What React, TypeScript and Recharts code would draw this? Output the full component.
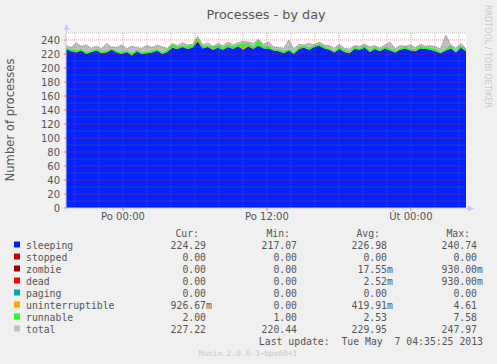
import React from 'react';
import { ComposedChart, Area, XAxis, YAxis, ReferenceLine } from 'recharts';

// 5-minute munin samples, one point every ~25 min (300 s/px)
const sleeping = [
  227, 224, 222, 225, 220, 223, 225, 221, 222, 226,
  222, 220, 223, 218, 224, 220, 221, 222, 225, 220,
  223, 229, 227, 230, 227, 229, 238, 228, 230, 226,
  229, 226, 230, 227, 231, 226, 231, 227, 232, 228,
  228, 225, 224, 221, 225, 220, 227, 229, 226, 230,
  232, 228, 226, 222, 227, 223, 221, 227, 226, 229,
  223, 227, 224, 228, 225, 222, 226, 228, 225, 224,
  228, 227, 226, 224, 221, 225, 228, 222, 229, 224,
];
const uninterruptible = [
  0, 0, 1, 0, 0, 0, 0, 0, 1, 0,
  0, 0, 0, 0, 0, 1, 0, 0, 0, 0,
  0, 1, 0, 0, 1, 0, 2, 0, 0, 1,
  0, 0, 1, 0, 0, 4, 1, 0, 1, 0,
  0, 0, 1, 0, 0, 0, 0, 1, 0, 0,
  1, 0, 0, 0, 0, 1, 0, 0, 0, 0,
  1, 0, 0, 0, 0, 1, 0, 0, 0, 1,
  0, 0, 1, 0, 0, 0, 1, 0, 0, 1,
];
const runnable = [
  2, 3, 2, 2, 3, 2, 2, 3, 2, 2,
  3, 2, 2, 3, 2, 2, 2, 3, 2, 2,
  3, 4, 3, 2, 3, 3, 4, 3, 2, 3,
  4, 3, 3, 4, 3, 5, 4, 3, 7, 3,
  3, 2, 2, 3, 2, 2, 3, 2, 3, 2,
  2, 3, 2, 2, 3, 2, 2, 3, 2, 3,
  2, 3, 2, 2, 3, 2, 2, 3, 2, 2,
  3, 2, 2, 3, 2, 2, 3, 2, 3, 2,
];
const total = [
  232, 229, 236, 231, 233, 228, 231, 227, 235, 230,
  229, 233, 227, 231, 229, 228, 232, 229, 233, 230,
  228, 235, 232, 236, 233, 234, 245, 233, 236, 231,
  235, 232, 237, 233, 236, 238, 237, 235, 241, 234,
  237, 230, 229, 228, 240, 227, 234, 233, 235, 233,
  237, 233, 232, 228, 234, 228, 227, 232, 231, 234,
  230, 232, 228, 233, 237, 227, 232, 231, 233, 229,
  234, 231, 232, 230, 227, 247, 233, 228, 235, 227,
];

// hours relative to Monday 00:00
const START = -4.75;
const END = 28.59;
const xTicks = [0, 12, 24];
const xTickLabels = ['Po 00:00', 'Po 12:00', 'Út 00:00'];
const yTicks = [0, 20, 40, 60, 80, 100, 120, 140, 160, 180, 200, 220, 240];
const yMinor = [10, 30, 50, 70, 90, 110, 130, 150, 170, 190, 210, 230, 250];
const xMajor = [0, 6, 12, 18, 24];
const xMinor = [-4, -2, 2, 4, 8, 10, 14, 16, 20, 22, 26, 28];

const legendNames = ['sleeping', 'stopped', 'zombie', 'dead', 'paging', 'uninterruptible', 'runnable', 'total'];
const legendColors = ['#0022ff', '#cc0000', '#990000', '#ff0000', '#00aaaa', '#ffa500', '#22ff22', '#c0c0c0'];
const curValues = ['224.29', '0.00', '0.00', '0.00', '0.00', '926.67m', '2.00', '227.22'];
const minValues = ['217.07', '0.00', '0.00', '0.00', '0.00', '0.00', '1.00', '220.44'];
const avgValues = ['226.98', '0.00', '17.55m', '2.52m', '0.00', '419.91m', '2.53', '229.95'];
const maxValues = ['240.74', '0.00', '930.00m', '930.00m', '0.00', '4.61', '7.58', '247.97'];

const data = sleeping.map((s, i) => ({
  t: START + (i * (END - START)) / (sleeping.length - 1),
  sleeping: s,
  uninterruptible: uninterruptible[i],
  runnable: runnable[i],
  total: total[i],
}));

const SANS = 'DejaVu Sans';
const MONO = 'DejaVu Sans Mono';
const TXT = '#555';
const MINOR = 'rgba(128,128,128,0.45)';
const MAJOR = 'rgba(255,40,40,0.45)';

const cols = [
  { head: 'Cur:', hx: 199, vx: 206, vals: curValues },
  { head: 'Min:', hx: 290, vx: 297, vals: minValues },
  { head: 'Avg:', hx: 380, vx: 387, vals: avgValues },
  { head: 'Max:', hx: 470, vx: 477, vals: maxValues },
];

function Value({ x, y, v }: { x: number; y: number; v: string }) {
  const unit = v.endsWith('m') ? 'm' : '';
  const num = unit ? v.slice(0, -1) : v;
  return (
    <>
      <text x={x} y={y} textAnchor="end">{num}</text>
      {unit && <text x={x} y={y}>{unit}</text>}
    </>
  );
}

function Overlay() {
  const rowY = (i: number) => 245.5 + i * 12;
  return (
    <svg width={497} height={364} style={{ position: 'absolute', left: 0, top: 0, pointerEvents: 'none' }}>
      <text x={266} y={19} textAnchor="middle" fontFamily={SANS} fontSize={12.8} fill={TXT}>
        Processes - by day
      </text>
      <text
        x={14}
        y={120}
        textAnchor="middle"
        fontFamily={SANS}
        fontSize={11.6}
        fill={TXT}
        transform="rotate(-90 14 120)"
      >
        Number of processes
      </text>
      <text x={485} y={5} fontFamily={SANS} fontSize={8} fill="#c8c8c8" transform="rotate(90 485 5)">
        RRDTOOL / TOBI OETIKER
      </text>
      {/* axis arrows */}
      <line x1={66.5} y1={33} x2={66.5} y2={28} stroke="#c8c8e0" />
      <polygon points="63.5,30 69.5,30 66.5,24" fill="#c8c8f0" />
      <line x1={466} y1={208.5} x2={470} y2={208.5} stroke="#c8c8e0" />
      <polygon points="468,205.5 468,211.5 474,208.5" fill="#c8c8f0" />
      {/* legend table */}
      <g fontFamily={MONO} fontSize={9.8} fill={TXT}>
        {cols.map((c) => (
          <text key={c.head} x={c.hx} y={233.5 + 3.5} textAnchor="end">
            {c.head}
          </text>
        ))}
        {legendNames.map((name, i) => (
          <g key={name}>
            <rect x={14} y={rowY(i) - 4} width={6} height={6} fill={legendColors[i]} />
            <text x={26} y={rowY(i) + 3.5}>{name}</text>
            {cols.map((c) => (
              <Value key={c.head} x={c.vx} y={rowY(i) + 3.5} v={c.vals[i]} />
            ))}
          </g>
        ))}
        <text x={483} y={341.5 + 3.5} textAnchor="end" xmlSpace="preserve">
          Last update:  Tue May  7 04:35:25 2013
        </text>
      </g>
      <text x={248} y={356} textAnchor="middle" fontFamily={MONO} fontSize={7.8} fill="#c8c8c8">
        Munin 2.0.6-3~bpo60+1
      </text>
    </svg>
  );
}

export default function App() {
  return (
    <div style={{ position: 'absolute', left: 0, top: 0, width: 497, height: 364, background: '#f0f0f0' }}>
      <div style={{ position: 'absolute', left: 66, top: 33, width: 400, height: 175, background: '#fff' }} />
      <div style={{ position: 'absolute', left: 0, top: 0 }}>
        <ComposedChart width={497} height={364} data={data} margin={{ top: 33, right: 31, bottom: 136, left: 6 }}>
          <XAxis
            type="number"
            dataKey="t"
            domain={[START, END]}
            allowDataOverflow
            ticks={xTicks}
            interval={0}
            tickFormatter={(v: number) => xTickLabels[xTicks.indexOf(v)]}
            height={20}
            tickSize={3}
            tickMargin={2}
            tick={{ fontSize: 10, fill: TXT, fontFamily: SANS }}
            tickLine={{ stroke: '#e08080' }}
            axisLine={{ stroke: '#c8c8e0' }}
          />
          <YAxis
            type="number"
            domain={[0, 250]}
            ticks={yTicks}
            interval={0}
            width={60}
            tickSize={2}
            tickMargin={4}
            tick={{ fontSize: 10, fill: TXT, fontFamily: SANS }}
            tickLine={{ stroke: '#e08080' }}
            axisLine={{ stroke: '#c8c8e0' }}
          />
          <Area
            type="linear"
            dataKey="total"
            fill="#c0c0c0"
            fillOpacity={1}
            stroke="#aaaaaa"
            strokeWidth={1}
            isAnimationActive={false}
          />
          <Area
            type="linear"
            dataKey="sleeping"
            stackId="p"
            fill="#0022ff"
            fillOpacity={1}
            stroke="none"
            isAnimationActive={false}
          />
          <Area
            type="linear"
            dataKey="uninterruptible"
            stackId="p"
            fill="#ffa500"
            fillOpacity={1}
            stroke="none"
            isAnimationActive={false}
          />
          <Area
            type="linear"
            dataKey="runnable"
            stackId="p"
            fill="#22ff22"
            fillOpacity={1}
            stroke="none"
            isAnimationActive={false}
          />
          {yMinor.map((v) => (
            <ReferenceLine key={'ym' + v} y={v} stroke={MINOR} strokeDasharray="1 1" />
          ))}
          {yTicks.slice(1).map((v) => (
            <ReferenceLine key={'yM' + v} y={v} stroke={MAJOR} strokeDasharray="1 1" />
          ))}
          {xMinor.map((v) => (
            <ReferenceLine key={'xm' + v} x={v} stroke={MINOR} strokeDasharray="1 1" />
          ))}
          {xMajor.map((v) => (
            <ReferenceLine key={'xM' + v} x={v} stroke={MAJOR} strokeDasharray="1 1" />
          ))}
        </ComposedChart>
      </div>
      <Overlay />
    </div>
  );
}
